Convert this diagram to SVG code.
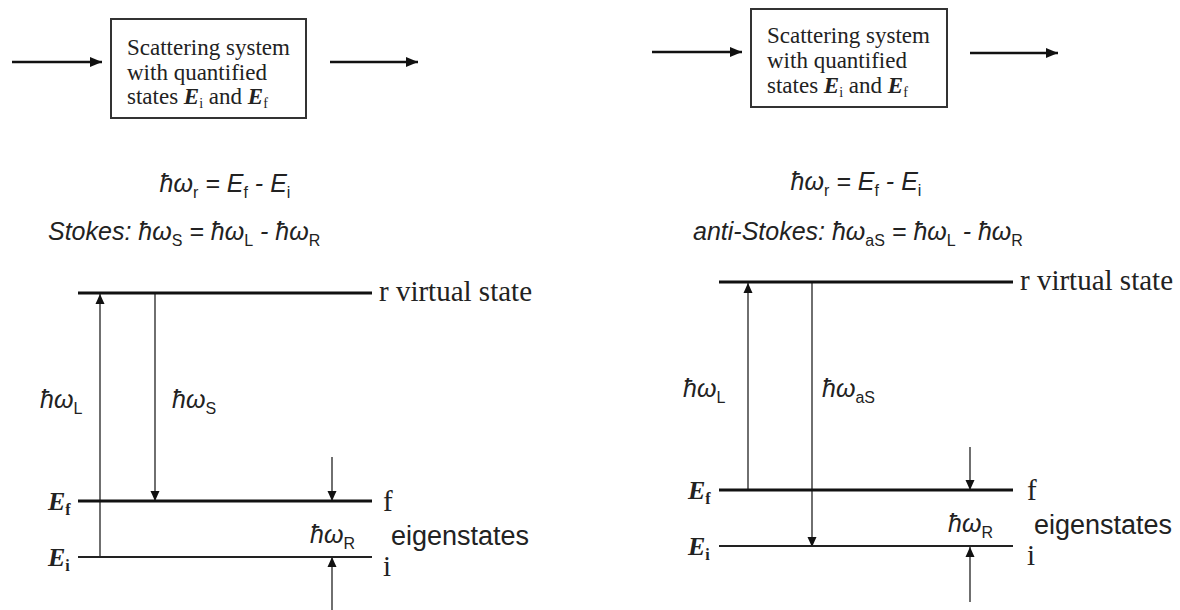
<svg xmlns="http://www.w3.org/2000/svg" width="1180" height="610" viewBox="0 0 1180 610">
<style>
.bg{fill:#ffffff}
.box{fill:#ffffff;stroke:#333;stroke-width:2}
.btxt{font-family:"Liberation Serif","Times New Roman",serif;font-size:23px;fill:#222}
.ser{font-family:"Liberation Serif","Times New Roman",serif;font-size:29px;fill:#222}
.evar{font-family:"Liberation Serif","Times New Roman",serif;font-style:italic;font-weight:bold;font-size:26px;fill:#222}
.sans{font-family:"Liberation Sans",Arial,sans-serif;font-size:27px;fill:#222}
.form{font-family:"Liberation Sans",Arial,sans-serif;font-style:italic;font-size:25px;fill:#222}
.sub{font-style:normal;font-size:16px}
.harrow{stroke:#111;stroke-width:2.5;fill:none;marker-end:url(#ah)}
.varrow{stroke:#222;stroke-width:1.3;fill:none;marker-end:url(#av)}
.lvl{stroke:#111;stroke-width:3;fill:none}
.lvli{stroke:#222;stroke-width:2.2;fill:none}
</style>
<defs>
<marker id="ah" markerUnits="userSpaceOnUse" markerWidth="12" markerHeight="10" refX="12" refY="5" orient="auto"><path d="M0,0 L12,5 L0,10 z" fill="#111"/></marker>
<marker id="av" markerUnits="userSpaceOnUse" markerWidth="10" markerHeight="10" refX="10" refY="5" orient="auto"><path d="M0,0.5 L10,5 L0,9.5 z" fill="#111"/></marker>
</defs>
<rect class="bg" x="0" y="0" width="1180" height="610"/>

<g id="connectors">
<line class="harrow" x1="12" y1="62" x2="102" y2="62"/>
<line class="harrow" x1="330" y1="62" x2="418" y2="62"/>
<line class="harrow" x1="652" y1="52" x2="742" y2="52"/>
<line class="harrow" x1="970" y1="53" x2="1058" y2="53"/>
<line class="varrow" x1="100" y1="556" x2="100" y2="294"/>
<line class="varrow" x1="155" y1="293" x2="155" y2="501"/>
<line class="varrow" x1="332" y1="457" x2="332" y2="501"/>
<line class="varrow" x1="332" y1="610" x2="332" y2="557"/>
<line class="varrow" x1="748" y1="490" x2="748" y2="283"/>
<line class="varrow" x1="812" y1="282" x2="812" y2="547"/>
<line class="varrow" x1="970" y1="447" x2="970" y2="490"/>
<line class="varrow" x1="970" y1="602" x2="970" y2="547"/>
</g>

<g id="box-left">
<rect class="box" x="111" y="19" width="195" height="99"/>
<text class="btxt" x="127" y="55">Scattering system</text>
<text class="btxt" x="127" y="80">with quantified</text>
<text class="btxt" x="127" y="104">states <tspan font-style="italic" font-weight="bold">E</tspan><tspan font-size="14" dy="4">i</tspan><tspan dy="-4"> and </tspan><tspan font-style="italic" font-weight="bold">E</tspan><tspan font-size="14" dy="4">f</tspan></text>
</g>

<g id="box-right">
<rect class="box" x="751" y="9" width="196" height="98"/>
<text class="btxt" x="767" y="43">Scattering system</text>
<text class="btxt" x="767" y="68">with quantified</text>
<text class="btxt" x="767" y="93">states <tspan font-style="italic" font-weight="bold">E</tspan><tspan font-size="14" dy="4">i</tspan><tspan dy="-4"> and </tspan><tspan font-style="italic" font-weight="bold">E</tspan><tspan font-size="14" dy="4">f</tspan></text>
</g>

<g id="formulas-left">
<text class="form" x="225" y="192" text-anchor="middle">ħω<tspan class="sub" dy="6">r</tspan><tspan dy="-6"> = E</tspan><tspan class="sub" dy="6">f</tspan><tspan dy="-6"> - E</tspan><tspan class="sub" dy="6">i</tspan></text>
<text class="form" x="48" y="240">Stokes: ħω<tspan class="sub" dy="6">S</tspan><tspan dy="-6"> = ħω</tspan><tspan class="sub" dy="6">L</tspan><tspan dy="-6"> - ħω</tspan><tspan class="sub" dy="6">R</tspan></text>
</g>

<g id="formulas-right">
<text class="form" x="856" y="190" text-anchor="middle">ħω<tspan class="sub" dy="6">r</tspan><tspan dy="-6"> = E</tspan><tspan class="sub" dy="6">f</tspan><tspan dy="-6"> - E</tspan><tspan class="sub" dy="6">i</tspan></text>
<text class="form" x="693" y="240">anti-Stokes: ħω<tspan class="sub" dy="6">aS</tspan><tspan dy="-6"> = ħω</tspan><tspan class="sub" dy="6">L</tspan><tspan dy="-6"> - ħω</tspan><tspan class="sub" dy="6">R</tspan></text>
</g>

<g id="levels-left">
<line class="lvl" x1="78" y1="293" x2="372" y2="293"/>
<line class="lvl" x1="78" y1="501" x2="372" y2="501"/>
<line class="lvli" x1="78" y1="557" x2="372" y2="557"/>
<text class="ser" x="379" y="301">r virtual state</text>
<text class="ser" x="383" y="511">f</text>
<text class="ser" x="383" y="576">i</text>
<text class="evar" x="48" y="510">E<tspan class="sub" dy="5">f</tspan></text>
<text class="evar" x="48" y="566">E<tspan class="sub" dy="5">i</tspan></text>
<text class="form" x="40" y="408">ħω<tspan class="sub" dy="6">L</tspan></text>
<text class="form" x="172" y="408">ħω<tspan class="sub" dy="6">S</tspan></text>
<text class="form" x="310" y="543">ħω<tspan class="sub" dy="6">R</tspan></text>
<text class="sans" x="391" y="545">eigenstates</text>
</g>

<g id="levels-right">
<line class="lvl" x1="719" y1="282" x2="1013" y2="282"/>
<line class="lvl" x1="719" y1="490" x2="1013" y2="490"/>
<line class="lvli" x1="719" y1="546" x2="1013" y2="546"/>
<text class="ser" x="1020" y="290">r virtual state</text>
<text class="ser" x="1027" y="500">f</text>
<text class="ser" x="1027" y="565">i</text>
<text class="evar" x="688" y="499">E<tspan class="sub" dy="5">f</tspan></text>
<text class="evar" x="688" y="555">E<tspan class="sub" dy="5">i</tspan></text>
<text class="form" x="683" y="397">ħω<tspan class="sub" dy="6">L</tspan></text>
<text class="form" x="822" y="397">ħω<tspan class="sub" dy="6">aS</tspan></text>
<text class="form" x="948" y="532">ħω<tspan class="sub" dy="6">R</tspan></text>
<text class="sans" x="1034" y="534">eigenstates</text>
</g>
</svg>
